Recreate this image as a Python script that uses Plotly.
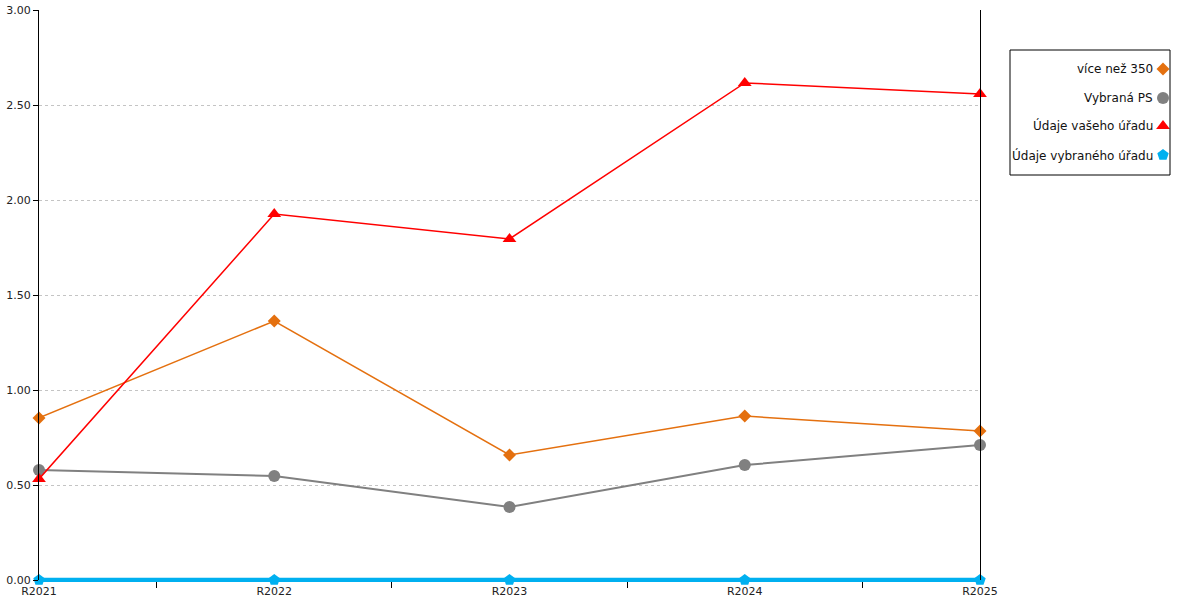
import plotly.graph_objects as go

categories = ["R2021", "R2022", "R2023", "R2024", "R2025"]

vice_nez_350 = [0.853, 1.363, 0.658, 0.863, 0.784]
vybrana_ps = [0.579, 0.547, 0.384, 0.605, 0.711]
udaje_vaseho = [0.532, 1.926, 1.795, 2.616, 2.558]
udaje_vybraneho = [0.0, 0.0, 0.0, 0.0, 0.0]

series_names = ["více než 350", "Vybraná PS", "Údaje vašeho úřadu", "Údaje vybraného úřadu"]
series_colors = ["#E4700F", "#808080", "#FF0000", "#00B0F0"]
series_symbols = ["diamond", "circle", "triangle-up", "pentagon"]
series_widths = [1.5, 2, 1.5, 4.5]  # the zero line is half clipped by the plot edge
series_sizes = [10, 12, 12, 12]

FONT = "DejaVu Sans"

fig = go.Figure()

for name, vals, col, sym, w, sz in zip(series_names,
                                       [vice_nez_350, vybrana_ps, udaje_vaseho, udaje_vybraneho],
                                       series_colors, series_symbols, series_widths, series_sizes):
    fig.add_trace(go.Scatter(x=categories, y=vals, name=name, mode="lines+markers",
                             line=dict(color=col, width=w),
                             marker=dict(symbol=sym, color=col, size=sz),
                             cliponaxis=False, showlegend=False))

plot_w = 1200 - 39 - 10
plot_h = 600 - 10 - 20
main_right = (980 - 39) / plot_w
row_px = [69, 98, 126, 155]
row_y = [(580 - p) / plot_h for p in row_px]
marker_x = (1163 - 39) / plot_w
text_x = (1155 - 39) / plot_w

# hand-built legend: text right-aligned, marker on the right
annotations = []
for name, y, col, sym, sz in zip(series_names, row_y, series_colors, series_symbols, [10, 12, 12, 12]):
    fig.add_trace(go.Scatter(x=[marker_x], y=[y], mode="markers", xaxis="x2", yaxis="y2",
                             marker=dict(symbol=sym, color=col, size=sz, opacity=1),
                             opacity=1, showlegend=False, hoverinfo="skip", cliponaxis=False))
    annotations.append(dict(x=text_x, y=y, xref="paper", yref="paper", text=name, showarrow=False,
                            xanchor="right", yanchor="middle", font=dict(family=FONT, size=12, color="#111")))

fig.update_layout(
    width=1200, height=600,
    margin=dict(l=39, r=10, t=10, b=20, autoexpand=False),
    plot_bgcolor="rgba(0,0,0,0)", paper_bgcolor="white",
    font=dict(family=FONT, size=11, color="#222"),
    xaxis=dict(domain=[0, main_right], type="category", range=[0, 4],
               tickson="boundaries", ticks="outside", ticklen=6, tickcolor="black",
               showline=True, linecolor="#00B0F0", linewidth=2, showgrid=False, zeroline=False,
               layer="below traces", automargin=False, tickfont=dict(size=11)),
    yaxis=dict(range=[0, 3], dtick=0.5, tickformat=".2f", ticks="outside", ticklen=5,
               tickcolor="black", showline=True, linecolor="black", linewidth=1, mirror=True,
               showgrid=True, gridcolor="#c4c4c4", griddash="dot", gridwidth=1, zeroline=False,
               automargin=False, tickfont=dict(size=11)),
    xaxis2=dict(domain=[0, 1], range=[0, 1], visible=False, anchor="y2"),
    yaxis2=dict(domain=[0, 1], range=[0, 1], visible=False, anchor="x2"),
    shapes=[dict(type="rect", xref="paper", yref="paper",
                 x0=(1010 - 39) / plot_w, x1=(1170 - 39) / plot_w,
                 y0=(580 - 175) / plot_h, y1=(580 - 50) / plot_h,
                 line=dict(color="black", width=1), fillcolor="rgba(0,0,0,0)")],
    annotations=annotations,
)

# the page body has a default 8px margin; drop it so the figure sits at the window corner
fig.write_html("out.html", config={"displayModeBar": False},
               post_script="document.body.style.margin='0px';")
